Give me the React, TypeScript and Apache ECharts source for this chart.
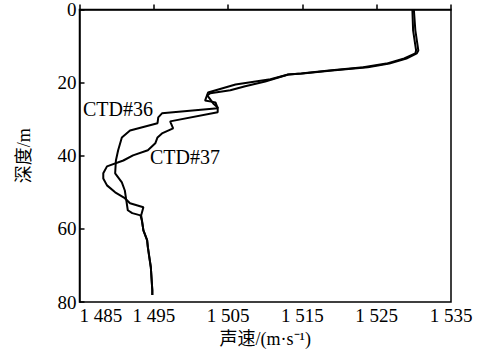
import React, { useEffect, useRef } from "react";
import * as echarts from "echarts";

// Sound speed (m/s) vs depth (m) profiles
const ctd36: [number, number][] = [
  [1529.8, 0], [1529.9, 5.7], [1530.3, 11.2], [1530.2, 12.0], [1528.7, 13.4],
  [1526.3, 14.8], [1523.2, 15.8], [1518.6, 16.7], [1514.8, 17.5], [1513.1, 17.8],
  [1510.7, 19.1], [1506.0, 20.5], [1502.3, 22.7], [1501.9, 24.9], [1503.3, 25.4],
  [1503.6, 27.0], [1496.1, 28.4], [1495.6, 29.5], [1495.5, 31.1], [1491.8, 33.1],
  [1490.7, 35.0], [1490.2, 38.5], [1489.9, 41.3], [1489.8, 44.8], [1490.7, 47.3],
  [1491.1, 49.5], [1491.3, 52.2], [1491.5, 54.9], [1492.1, 55.7], [1493.2, 56.3],
  [1493.4, 57.7], [1493.6, 60.4], [1494.1, 63.1], [1494.2, 65.0], [1494.4, 67.8],
  [1494.6, 70.5], [1494.8, 76.8], [1494.8, 78.1],
];
const ctd37: [number, number][] = [
  [1530.0, 0], [1530.2, 5.7], [1530.6, 11.2], [1530.4, 12.0], [1529.0, 13.4],
  [1526.7, 14.8], [1523.8, 15.8], [1519.0, 16.7], [1515.0, 17.5], [1513.1, 17.8],
  [1510.0, 19.7], [1507.3, 21.0], [1505.3, 22.1], [1502.6, 22.9], [1502.2, 23.5],
  [1503.0, 25.7], [1503.6, 26.8], [1503.6, 28.1], [1497.2, 30.6], [1497.6, 32.5],
  [1496.1, 33.9], [1495.5, 35.0], [1495.2, 36.6], [1494.2, 38.5], [1492.2, 39.9],
  [1490.9, 41.3], [1488.7, 42.9], [1488.2, 44.8], [1488.2, 46.2], [1488.7, 48.1],
  [1489.8, 50.0], [1491.1, 51.6], [1491.8, 53.0], [1493.6, 54.1], [1493.3, 56.3],
  [1493.4, 57.7], [1493.6, 60.4], [1494.1, 63.1], [1494.2, 65.0], [1494.4, 67.8],
  [1494.6, 70.5], [1494.8, 76.8], [1494.8, 78.1],
];
const seriesNames = ["CTD#36", "CTD#37"];
const xTitle = "声速/(m·s⁻¹)";
const yTitle = "深度/m";

const FONT = "'Liberation Serif', 'Times New Roman', 'Noto Sans CJK SC', serif";

export default function App() {
  const ref = useRef<HTMLDivElement>(null);
  useEffect(() => {
    if (!ref.current) return;
    const chart = echarts.init(ref.current, undefined, { renderer: "svg" });
    const lineStyle = { color: "#000", width: 2 };
    chart.setOption({
      animation: false,
      backgroundColor: "#fff",
      grid: {
        left: 79.5, right: 30, top: 9, bottom: 53,
        show: true, borderColor: "#000", borderWidth: 1.5, backgroundColor: "transparent",
      },
      xAxis: {
        type: "value", min: 1485, max: 1535, interval: 10,
        name: xTitle, nameLocation: "middle", nameGap: 28,
        nameTextStyle: { color: "#000", fontSize: 18, fontFamily: FONT },
        axisLine: { show: true, lineStyle: { color: "#000", width: 1.5 } },
        axisTick: { show: true, inside: true, length: 5, lineStyle: { color: "#000", width: 1.5 } },
        axisLabel: {
          color: "#000", fontSize: 19, fontFamily: FONT, margin: 4,
          alignMinLabel: "left",
          formatter: (v: number) => String(v).replace(/^(\d)(\d{3})$/, "$1 $2"),
        },
        splitLine: { show: false },
      },
      yAxis: {
        type: "value", inverse: true, min: 0, max: 80, interval: 20,
        name: yTitle, nameLocation: "middle", nameGap: 47, nameRotate: 90,
        nameTextStyle: { color: "#000", fontSize: 18, fontFamily: FONT },
        axisLine: { show: true, lineStyle: { color: "#000", width: 1.5 } },
        axisTick: { show: true, inside: true, length: 5, lineStyle: { color: "#000", width: 1.5 } },
        axisLabel: { color: "#000", fontSize: 19, fontFamily: FONT, margin: 3 },
        splitLine: { show: false },
      },
      series: [
        { name: seriesNames[0], type: "line", data: ctd36, showSymbol: false, lineStyle, silent: true },
        { name: seriesNames[1], type: "line", data: ctd37, showSymbol: false, lineStyle, silent: true },
      ],
      graphic: [
        { type: "text", left: 83, top: 99, style: { text: seriesNames[0], fill: "#000", font: `20px ${FONT}` } },
        { type: "text", left: 150, top: 147, style: { text: seriesNames[1], fill: "#000", font: `20px ${FONT}` } },
      ],
    });
    return () => chart.dispose();
  }, []);
  return <div ref={ref} style={{ width: 481, height: 355, position: "absolute", left: 0, top: 0 }} />;
}
